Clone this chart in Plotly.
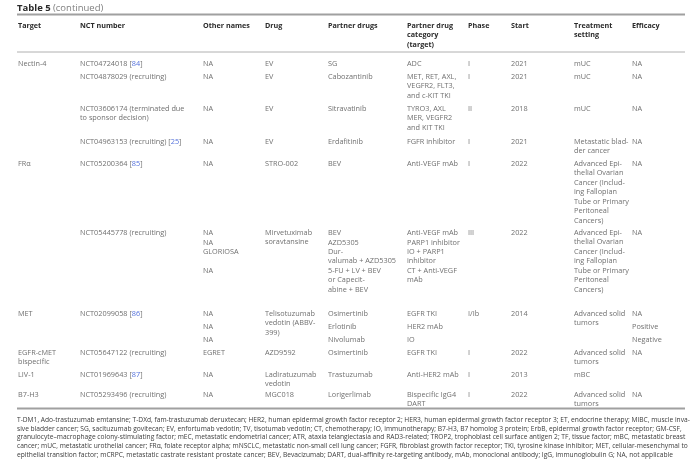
import re
import plotly.graph_objects as go

# Table text, one entry per table row.
# A list inside a cell = stacked sub-rows, "\n" = wrapped line inside a cell.
headers = ["Target", "NCT number", "Other names", "Drug", "Partner drugs",
           "Partner drug\ncategory\n(target)", "Phase", "Start", "Treatment\nsetting", "Efficacy"]

targets = ["Nectin-4", "", "", "", "FRα", "", "MET", "EGFR-cMET\nbispecific", "LIV-1", "B7-H3"]

nct_numbers = ["NCT04724018 [84]", "NCT04878029 (recruiting)",
               "NCT03606174 (terminated due\nto sponsor decision)", "NCT04963153 (recruiting) [25]",
               "NCT05200364 [85]", "NCT05445778 (recruiting)", "NCT02099058 [86]",
               "NCT05647122 (recruiting)", "NCT01969643 [87]", "NCT05293496 (recruiting)"]

other_names = ["NA", "NA", "NA", "NA", "NA", ["NA", "NA", "GLORIOSA", "NA"],
               ["NA", "NA", "NA"], "EGRET", "NA", "NA"]

drugs = ["EV", "EV", "EV", "EV", "STRO-002", "Mirvetuximab\nsoravtansine",
         "Telisotuzumab\nvedotin (ABBV-\n399)", "AZD9592", "Ladiratuzumab\nvedotin", "MGC018"]

partner_drugs = ["SG", "Cabozantinib", "Sitravatinib", "Erdafitinib", "BEV",
                 ["BEV", "AZD5305", "Dur-\nvalumab + AZD5305", "5-FU + LV + BEV\nor Capecit-\nabine + BEV"],
                 ["Osimertinib", "Erlotinib", "Nivolumab"], "Osimertinib", "Trastuzumab", "Lorigerlimab"]

partner_categories = ["ADC", "MET, RET, AXL,\nVEGFR2, FLT3,\nand c-KIT TKI", "TYRO3, AXL\nMER, VEGFR2\nand KIT TKI",
                      "FGFR inhibitor", "Anti-VEGF mAb",
                      ["Anti-VEGF mAb", "PARP1 inhibitor", "IO + PARP1\ninhibitor", "CT + Anti-VEGF\nmAb"],
                      ["EGFR TKI", "HER2 mAb", "IO"], "EGFR TKI", "Anti-HER2 mAb", "Bispecific IgG4\nDART"]

phases = ["I", "I", "II", "I", "I", "III", "I/Ib", "I", "I", "I"]

starts = ["2021", "2021", "2018", "2021", "2022", "2022", "2014", "2022", "2013", "2022"]

ovarian = "Advanced Epi-\nthelial Ovarian\nCancer (Includ-\ning Fallopian\nTube or Primary\nPeritoneal\nCancers)"
settings = ["mUC", "mUC", "mUC", "Metastatic blad-\nder cancer", ovarian, ovarian,
            "Advanced solid\ntumors", "Advanced solid\ntumors", "mBC", "Advanced solid\ntumors"]

efficacy = ["NA", "NA", "NA", "NA", "NA", "NA", ["NA", "Positive", "Negative"], "NA", "", "NA"]

footnote = [
    "T-DM1, Ado-trastuzumab emtansine; T-DXd, fam-trastuzumab deruxtecan; HER2, human epidermal growth factor receptor 2; HER3, human epidermal growth factor receptor 3; ET, endocrine therapy; MIBC, muscle inva-",
    "sive bladder cancer; SG, sacituzumab govitecan; EV, enfortumab vedotin; TV, tisotumab vedotin; CT, chemotherapy; IO, immunotherapy; B7-H3, B7 homolog 3 protein; ErbB, epidermal growth factor receptor; GM-CSF,",
    "granulocyte–macrophage colony-stimulating factor; mEC, metastatic endometrial cancer; ATR, ataxia telangiectasia and RAD3-related; TROP2, trophoblast cell surface antigen 2; TF, tissue factor; mBC, metastatic breast",
    "cancer; mUC, metastatic urothelial cancer; FRα, folate receptor alpha; mNSCLC, metastatic non-small cell lung cancer; FGFR, fibroblast growth factor receptor; TKI, tyrosine kinase inhibitor; MET, cellular-mesenchymal to",
    "epithelial transition factor; mCRPC, metastatic castrate resistant prostate cancer; BEV, Bevacizumab; DART, dual-affinity re-targeting antibody, mAb, monoclonal antibody; IgG, immunoglobulin G; NA, not applicable",
]

columns = [targets, nct_numbers, other_names, drugs, partner_drugs,
           partner_categories, phases, starts, settings, efficacy]

# layout (pixel-like units on hidden axes)
col_x = [17, 79, 202, 264, 327, 406, 467, 510, 573, 631]
row_y = [62, 74.5, 107, 140, 162, 231, 312, 351, 373, 393]
sub_gap = [0, 0, 0, 0, 0, 0, 3.5, 0, 0, 0]
LH = 9.5  # plotly wraps <br> at 1.3em -> 7.3px font gives 9.5px lines
FONT = "Open Sans"
BODY = dict(family=FONT, size=7.3, color="#707070")
HEAD = dict(family=FONT, size=7.2, color="#2a2a2a", weight="bold")
NOTE = dict(family=FONT, size=6.65, color="#3c3c3c")


def link(s):
    # reference numbers are blue in the source
    return re.sub(r"\[(\d+)\]", r"[<span style='color:#5572dc'>\1</span>]", s)


annotations = []


def put(text, x, y, font, yanchor="middle"):
    annotations.append(dict(text=text, x=x, y=y, xref="x", yref="y", xanchor="left", align="left",
                            yanchor=yanchor, showarrow=False, font=font, borderpad=0))


# title
put("<b>Table 5</b>", 16, 7.5, dict(family=FONT, size=9.5, color="#2a2a2a"))
put("(continued)", 52, 7.5, dict(family=FONT, size=9.5, color="#808080"))

# header
for x, h in zip(col_x, headers):
    put(h.replace("\n", "<br>"), x, 24 - 4.7, HEAD, yanchor="top")

# body
for r in range(len(targets)):
    cells = [col[r] for col in columns]
    subs = [c for c in cells if isinstance(c, list)]
    n_sub = max([len(c) for c in subs], default=1)
    heights = [max([len(c[k].split("\n")) for c in subs if k < len(c)], default=1) for k in range(n_sub)]
    for x, cell in zip(col_x, cells):
        entries = cell if isinstance(cell, list) else [cell]
        for k, entry in enumerate(entries):
            if not entry:
                continue
            y0 = row_y[r] + sum(heights[:k]) * LH + k * sub_gap[r]
            put(link(entry).replace("\n", "<br>"), x, y0 - LH / 2, BODY, yanchor="top")

# footnote
put("<br>".join(footnote), 16, 436.5, NOTE)

fig = go.Figure()

# rules of the table
fig.add_shape(type="line", x0=17, x1=685, y0=14.5, y1=14.5, line=dict(color="#a0a0a0", width=1.8))
fig.add_shape(type="line", x0=17, x1=685, y0=52, y1=52, line=dict(color="#b0b0b0", width=1))
fig.add_shape(type="line", x0=17, x1=685, y0=408.5, y1=408.5, line=dict(color="#a0a0a0", width=1.8))

fig.update_layout(
    width=700, height=466,
    margin=dict(l=0, r=0, t=0, b=0),
    paper_bgcolor="white", plot_bgcolor="white",
    xaxis=dict(range=[0, 700], visible=False, fixedrange=True),
    yaxis=dict(range=[466, 0], visible=False, fixedrange=True),
    annotations=annotations,
    showlegend=False,
)

# page body has an 8px default margin; drop it so the table sits at the window corner.
# putting the svgs on their own layer gives grey (not coloured) text antialiasing
js = ("document.body.style.margin='0';"
      "document.querySelectorAll('.main-svg').forEach(function(s){s.style.willChange='transform';});")
fig.write_html("out.html", config={"displayModeBar": False}, post_script=js)
